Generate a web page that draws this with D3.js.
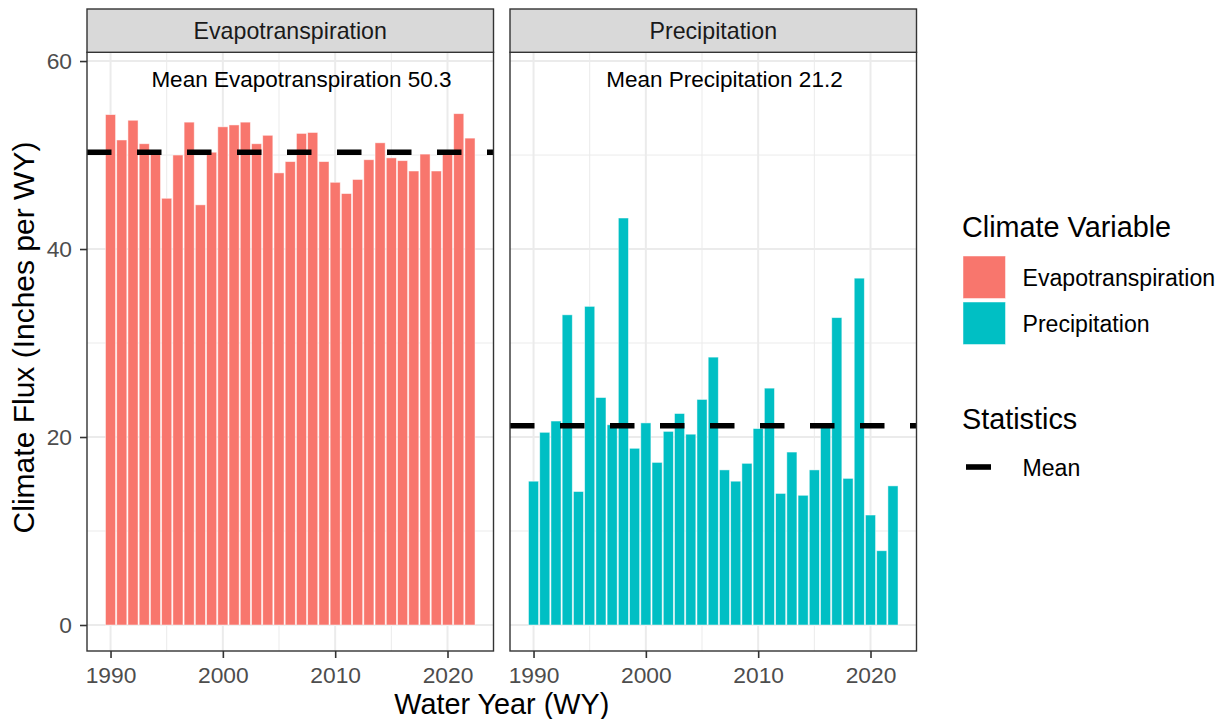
<!DOCTYPE html>
<html>
<head>
<meta charset="utf-8">
<script src="https://cdn.jsdelivr.net/npm/d3@7"></script>
<style>
  html, body { margin: 0; padding: 0; background: #fff; }
  svg { display: block; }
  text { font-family: "Liberation Sans", Arial, Helvetica, sans-serif; }
</style>
</head>
<body>
<svg id="chart" width="1220" height="719"></svg>
<script>
// ---------------- data ----------------
const years = d3.range(1990, 2023);
const evapotranspiration = [54.3, 51.6, 53.7, 51.2, 50.5, 45.4, 50.0, 53.5, 44.7, 50.3,
  53.0, 53.2, 53.5, 51.2, 52.1, 48.1, 49.3, 52.3, 52.4, 49.3,
  47.1, 45.9, 47.4, 49.5, 51.3, 49.7, 49.4, 48.3, 50.1, 48.3,
  50.2, 54.4, 51.8];
const precipitation = [15.3, 20.5, 21.7, 33.0, 14.2, 33.9, 24.2, 21.3, 43.3, 18.8,
  21.5, 17.3, 20.6, 22.5, 20.3, 24.0, 28.5, 16.5, 15.3, 17.2,
  20.9, 25.2, 14.0, 18.4, 13.8, 16.5, 21.0, 32.7, 15.6, 36.9,
  11.7, 7.9, 14.8];
const variables = ["Evapotranspiration", "Precipitation"];
const means = [50.3, 21.2];
const colors = ["#F8766D", "#00BFC4"];
const xMajorTicks = [1990, 2000, 2010, 2020];
const xMinorTicks = [1995, 2005, 2015];
const yMajorTicks = [0, 20, 40, 60];
const yMinorTicks = [10, 30, 50];
const seriesValues = [evapotranspiration, precipitation];

// ---------------- layout ----------------
const svg = d3.select("#chart");
const panelTop = 52.3, panelBottom = 651;
const stripTop = 9;
const panels = [{x0: 87, x1: 493.5}, {x0: 510, x1: 916.5}];
const y = d3.scaleLinear().domain([-2.766, 60.93]).range([panelBottom, panelTop]);
const FONT = '"Liberation Sans", Arial, Helvetica, sans-serif';

panels.forEach((p, i) => {
  const x = d3.scaleLinear().domain([1987.905, 2024.095]).range([p.x0, p.x1]);
  const g = svg.append("g");
  const w = p.x1 - p.x0;

  g.append("rect").attr("x", p.x0).attr("y", panelTop).attr("width", w)
    .attr("height", panelBottom - panelTop).attr("fill", "#fff");

  // minor grid
  g.selectAll(".ymin").data(yMinorTicks).join("line")
    .attr("x1", p.x0).attr("x2", p.x1).attr("y1", d => y(d)).attr("y2", d => y(d))
    .attr("stroke", "#ebebeb").attr("stroke-width", 1);
  g.selectAll(".xmin").data(xMinorTicks).join("line")
    .attr("y1", panelTop).attr("y2", panelBottom).attr("x1", d => x(d)).attr("x2", d => x(d))
    .attr("stroke", "#ebebeb").attr("stroke-width", 1);
  // major grid
  g.selectAll(".ymaj").data(yMajorTicks).join("line")
    .attr("x1", p.x0).attr("x2", p.x1).attr("y1", d => y(d)).attr("y2", d => y(d))
    .attr("stroke", "#ebebeb").attr("stroke-width", 2);
  g.selectAll(".xmaj").data(xMajorTicks).join("line")
    .attr("y1", panelTop).attr("y2", panelBottom).attr("x1", d => x(d)).attr("x2", d => x(d))
    .attr("stroke", "#ebebeb").attr("stroke-width", 2);

  // bars
  const vals = seriesValues[i];
  const bw = 0.9;
  g.selectAll(".bar").data(years.map((yr, k) => ({yr, v: vals[k]}))).join("rect")
    .attr("x", d => x(d.yr - bw / 2))
    .attr("width", d => x(d.yr + bw / 2) - x(d.yr - bw / 2))
    .attr("y", d => y(d.v))
    .attr("height", d => y(0) - y(d.v))
    .attr("fill", colors[i])
    .attr("stroke", "#ffffff").attr("stroke-opacity", 0.6).attr("stroke-width", 0.8);

  // mean line
  g.append("line")
    .attr("x1", p.x0).attr("x2", p.x1).attr("y1", y(means[i])).attr("y2", y(means[i]))
    .attr("stroke", "#000").attr("stroke-width", 5.6).attr("stroke-dasharray", "24.5,25.5");

  // annotation
  g.append("text").attr("x", x(2007)).attr("y", y(58))
    .attr("text-anchor", "middle").attr("dominant-baseline", "central")
    .attr("font-size", 22.5).attr("fill", "#000")
    .text(`Mean ${variables[i]} ${means[i].toFixed(1)}`);

  // panel border
  g.append("rect").attr("x", p.x0).attr("y", panelTop).attr("width", w)
    .attr("height", panelBottom - panelTop).attr("fill", "none")
    .attr("stroke", "#333").attr("stroke-width", 1.4);

  // strip
  g.append("rect").attr("x", p.x0).attr("y", stripTop).attr("width", w)
    .attr("height", panelTop - stripTop).attr("fill", "#d9d9d9")
    .attr("stroke", "#333").attr("stroke-width", 1.4);
  g.append("text").attr("x", (p.x0 + p.x1) / 2).attr("y", (stripTop + panelTop) / 2)
    .attr("text-anchor", "middle").attr("dominant-baseline", "central")
    .attr("font-size", 23.2).attr("fill", "#1a1a1a").text(variables[i]);

  // x axis
  const xa = svg.append("g").attr("transform", `translate(0,${panelBottom})`)
    .call(d3.axisBottom(x).tickValues(xMajorTicks).tickFormat(d3.format("d"))
      .tickSize(7).tickPadding(8.5));
  xa.select(".domain").remove();
  xa.selectAll("line").attr("stroke", "#333").attr("stroke-width", 1.6);
  xa.selectAll("text").attr("font-size", 22.8).attr("fill", "#4d4d4d").attr("font-family", FONT);

  if (i === 0) {
    const ya = svg.append("g").attr("transform", `translate(${p.x0},0)`)
      .call(d3.axisLeft(y).tickValues(yMajorTicks).tickSize(7).tickPadding(8));
    ya.select(".domain").remove();
    ya.selectAll("line").attr("stroke", "#333").attr("stroke-width", 1.6);
    ya.selectAll("text").attr("font-size", 22.8).attr("fill", "#4d4d4d").attr("font-family", FONT);
  }
});

// axis titles
svg.append("text").attr("x", (panels[0].x0 + panels[1].x1) / 2).attr("y", 714)
  .attr("text-anchor", "middle").attr("font-size", 28.8).attr("fill", "#000")
  .text("Water Year (WY)");
svg.append("text")
  .attr("transform", `translate(34,337.5) rotate(-90)`)
  .attr("text-anchor", "middle").attr("font-size", 30).attr("fill", "#000")
  .text("Climate Flux (Inches per WY)");

// legend
const lg = svg.append("g");
lg.append("text").attr("x", 962).attr("y", 227).attr("dominant-baseline", "central")
  .attr("font-size", 28.8).attr("fill", "#000").text("Climate Variable");
const keyY = [256, 302];
variables.forEach((v, i) => {
  lg.append("rect").attr("x", 963).attr("y", keyY[i]).attr("width", 42.5).attr("height", 42.5)
    .attr("fill", colors[i]).attr("stroke", "#fff").attr("stroke-opacity", 0.6).attr("stroke-width", 0.8);
  lg.append("text").attr("x", 1022.5).attr("y", keyY[i] + 21.5).attr("dominant-baseline", "central")
    .attr("font-size", 23.1).attr("fill", "#000").text(v);
});
lg.append("text").attr("x", 962).attr("y", 419).attr("dominant-baseline", "central")
  .attr("font-size", 28.8).attr("fill", "#000").text("Statistics");
lg.append("line").attr("x1", 966).attr("x2", 991).attr("y1", 467).attr("y2", 467)
  .attr("stroke", "#000").attr("stroke-width", 5.6);
lg.append("text").attr("x", 1022.5).attr("y", 468).attr("dominant-baseline", "central")
  .attr("font-size", 23.1).attr("fill", "#000").text("Mean");
</script>
</body>
</html>
